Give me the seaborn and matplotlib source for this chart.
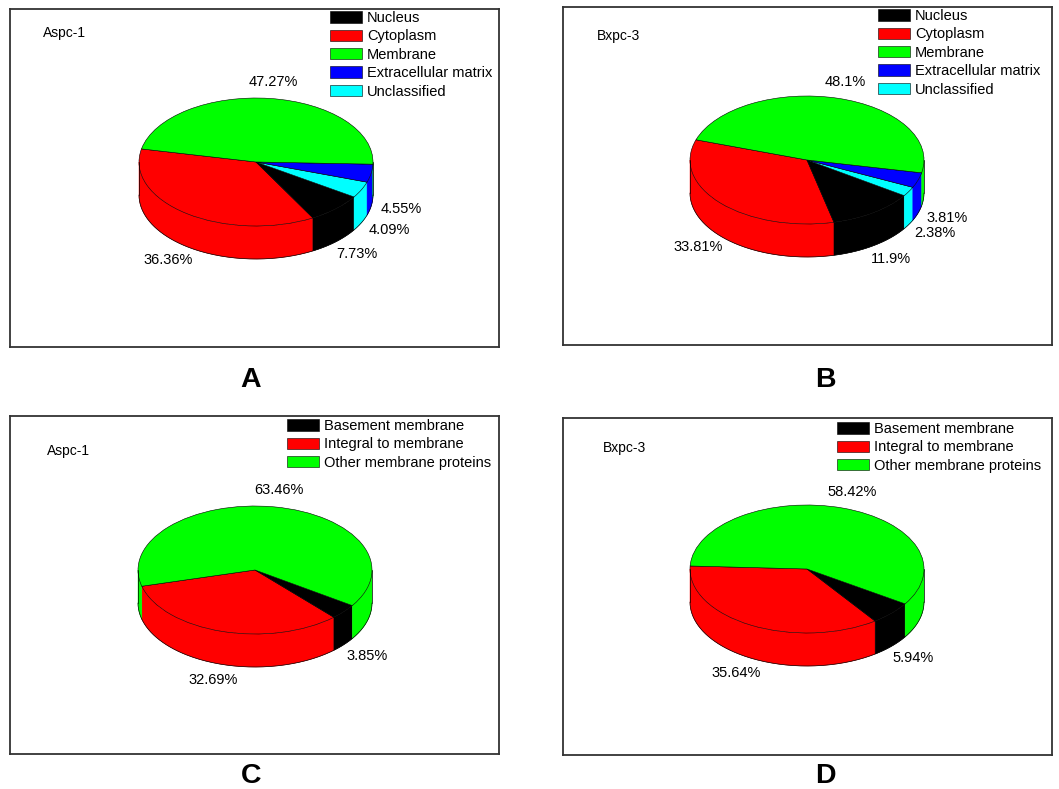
import numpy as np
import matplotlib
matplotlib.use("Agg")
import matplotlib.pyplot as plt
import seaborn as sns

# ---------------- data ----------------
location_labels = ["Nucleus", "Cytoplasm", "Membrane", "Extracellular matrix", "Unclassified"]
location_colors = ["#000000", "#FF0000", "#00FF00", "#0000FF", "#00FFFF"]
aspc1_location = [7.73, 36.36, 47.27, 4.55, 4.09]
bxpc3_location = [11.9, 33.81, 48.1, 3.81, 2.38]

membrane_labels = ["Basement membrane", "Integral to membrane", "Other membrane proteins"]
membrane_colors = ["#000000", "#FF0000", "#00FF00"]
aspc1_membrane = [3.85, 32.69, 63.46]
bxpc3_membrane = [5.94, 35.64, 58.42]

cell_lines = ["Aspc-1", "Bxpc-3", "Aspc-1", "Bxpc-3"]
panel_letters = ["A", "B", "C", "D"]

# slice drawing order (counter-clockwise) and start angles
order_location = [1, 0, 4, 3, 2]
order_membrane = [1, 0, 2]
start_angles = [168.2, 161.6, 194.7, 177.3]

# ---------------- style ----------------
sns.set_theme(style="white")
plt.rcParams["font.family"] = ["Liberation Sans", "DejaVu Sans"]
plt.rcParams["text.color"] = "black"

W, H = 1059, 789
fig = plt.figure(figsize=(W / 100, H / 100), dpi=100)
fig.patch.set_facecolor("white")

RX, RY, DEPTH = 117.0, 64.0, 33.0
D = DEPTH / RY

panels = [
    dict(values=aspc1_location, labels=location_labels, colors=location_colors, order=order_location,
         box=(10, 9, 499, 347), center=(256, 162), legend=(330, 11), name=(43, 33), letter=(251, 380)),
    dict(values=bxpc3_location, labels=location_labels, colors=location_colors, order=order_location,
         box=(563, 7, 1052, 345), center=(807, 160), legend=(878, 9), name=(597, 36), letter=(825, 380)),
    dict(values=aspc1_membrane, labels=membrane_labels, colors=membrane_colors, order=order_membrane,
         box=(10, 416, 499, 754), center=(255, 570), legend=(287, 419), name=(47, 451), letter=(251, 776)),
    dict(values=bxpc3_membrane, labels=membrane_labels, colors=membrane_colors, order=order_membrane,
         box=(563, 418, 1052, 755), center=(807, 569), legend=(837, 422), name=(603, 448), letter=(825, 776)),
]


def visible_segments(t1, t2):
    segs = []
    for lo, hi in [(-180, 0), (180, 360), (540, 720)]:
        a, b = max(t1, lo), min(t2, hi)
        if b > a:
            segs.append((a, b))
    return segs


for i, p in enumerate(panels):
    x0, y0, x1, y1 = p["box"]
    cx, cy = p["center"]
    ax = fig.add_axes([x0 / W, 1 - y1 / H, (x1 - x0) / W, (y1 - y0) / H])

    vals = [p["values"][k] for k in p["order"]]
    cols = [p["colors"][k] for k in p["order"]]
    pct = [f"{v:g}%" for v in vals]

    wedges, texts = ax.pie(vals, colors=cols, startangle=start_angles[i], counterclock=True,
                           labels=pct, labeldistance=1.26, radius=1.0,
                           wedgeprops=dict(edgecolor="black", linewidth=0.4, zorder=3),
                           textprops=dict(fontsize=10.5, color="black"))

    # side walls of the 3D disc
    for w, c in zip(wedges, cols):
        for a, b in visible_segments(w.theta1, w.theta2):
            t = np.radians(np.linspace(a, b, 80))
            xs = np.concatenate([np.cos(t), np.cos(t[::-1])])
            ys = np.concatenate([np.sin(t), np.sin(t[::-1]) - D])
            ax.fill(xs, ys, facecolor=c, edgecolor=c, linewidth=0.3, zorder=1)
    tb = np.radians(np.linspace(180, 360, 200))
    ax.plot(np.cos(tb), np.sin(tb) - D, color="black", lw=0.5, zorder=4)
    ax.plot([-1, -1], [0, -D], color="black", lw=0.5, zorder=4)
    ax.plot([1, 1], [0, -D], color="black", lw=0.5, zorder=4)

    # percentage labels
    for w, t in zip(wedges, texts):
        mid = np.radians((w.theta1 + w.theta2) / 2)
        x, y = 1.26 * np.cos(mid), 1.26 * np.sin(mid)
        if np.sin(mid) < 0:
            y -= D
        t.set_position((x, y))
        t.set_ha("center")
        t.set_va("center")

    ax.set_aspect("auto")
    ax.set_xlim((x0 - cx) / RX, (x1 - cx) / RX)
    ax.set_ylim(-(y1 - cy) / RY, (cy - y0) / RY)
    ax.set_frame_on(True)
    for s in ax.spines.values():
        s.set_visible(True)
        s.set_color("#333333")
        s.set_linewidth(1.3)
    ax.set_xticks([])
    ax.set_yticks([])

    # legend in original label order
    handles = [wedges[p["order"].index(k)] for k in range(len(p["labels"]))]
    fs_px = 10.5 * 100 / 72
    lx, ly = p["legend"]
    leg = ax.legend(handles, p["labels"], loc="upper left",
                    bbox_to_anchor=(lx / W, 1 - ly / H), bbox_transform=fig.transFigure,
                    frameon=False, borderpad=0, borderaxespad=0, fontsize=10.5,
                    handlelength=32 / fs_px, handleheight=12 / fs_px, handletextpad=5 / fs_px,
                    labelspacing=0.30)
    for txt in leg.get_texts():
        txt.set_color("black")

    nx, ny = p["name"]
    fig.text(nx / W, 1 - ny / H, cell_lines[i], fontsize=10, ha="left", va="center", color="black")
    lx2, ly2 = p["letter"]
    fig.text(lx2 / W, 1 - ly2 / H, panel_letters[i], fontsize=20.5, fontweight="bold",
             ha="center", va="center", color="black")

fig.savefig("out.png", dpi=100, facecolor="white")
